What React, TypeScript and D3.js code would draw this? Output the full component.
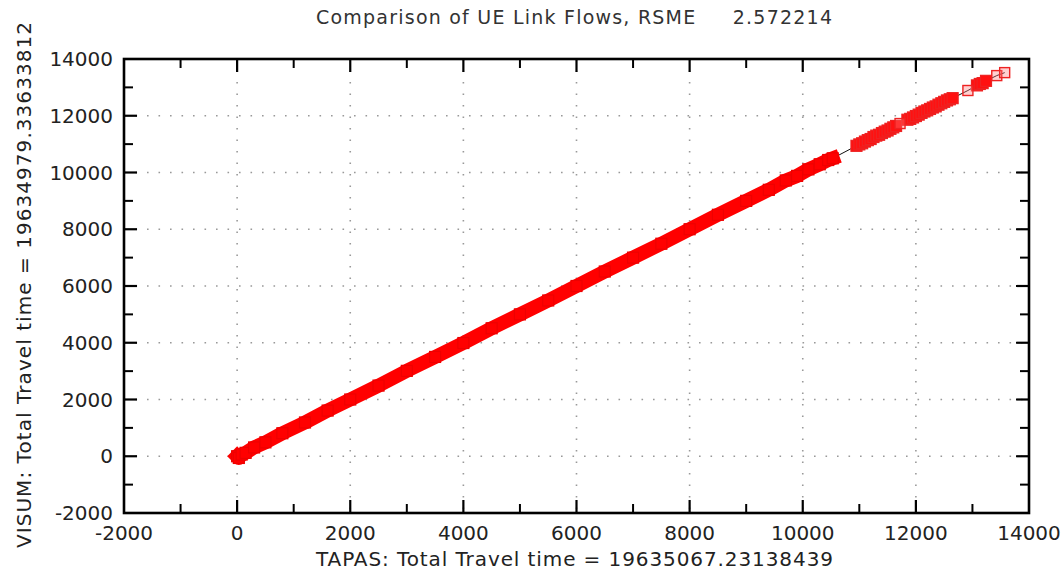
import React from "react";
import * as d3 from "d3";

const W = 1064;
const H = 573;

const titleText = "Comparison of UE Link Flows, RSME     2.572214";
const xAxisTitle = "TAPAS: Total Travel time = 19635067.23138439";
const yAxisTitle = "VISUM: Total Travel time = 19634979.33633812";

const xTicks = [-2000, 0, 2000, 4000, 6000, 8000, 10000, 12000, 14000];
const yTicks = [-2000, 0, 2000, 4000, 6000, 8000, 10000, 12000, 14000];
const minorTicks = [-1000, 1000, 3000, 5000, 7000, 9000, 11000, 13000];

// Dense band of link flows (overlapping markers), TAPAS vs VISUM
const bandTapas = [0, 30, 80, 150, 300, 500, 800, 1200, 1600, 2000, 2500, 3000, 3500, 4000, 4500, 5000, 5500, 6000, 6500, 7000, 7500, 8000, 8500, 9000, 9400, 9700, 9900, 10100, 10300, 10450, 10530];
const bandVisum = [0, -60, 60, 120, 310, 490, 810, 1190, 1610, 2000, 2490, 3010, 3500, 3990, 4510, 5000, 5490, 6000, 6510, 7000, 7490, 8000, 8510, 9000, 9390, 9720, 9880, 10110, 10290, 10440, 10500];

// Clustered links at high flows
const clusterTapas = [10950, 11000, 11050, 11100, 11150, 11200, 11250, 11300, 11350, 11400, 11450, 11500, 11550, 11600, 11650, 11850, 11900, 11950, 12000, 12050, 12100, 12150, 12200, 12250, 12300, 12350, 12400, 12450, 12500, 12550, 12600, 12650, 13080, 13130, 13180, 13240];
const clusterVisum = [10940, 10990, 11030, 11090, 11140, 11180, 11250, 11300, 11330, 11390, 11440, 11480, 11540, 11590, 11640, 11860, 11890, 11940, 11990, 12040, 12100, 12150, 12190, 12240, 12290, 12330, 12390, 12440, 12490, 12540, 12580, 12620, 13070, 13120, 13150, 13230];

// Isolated links
const singleTapas = [11720, 12920, 13430, 13570];
const singleVisum = [11725, 12890, 13415, 13520];

export default function App() {
  const x = d3.scaleLinear().domain([-2000, 14000]).range([124, 1029]);
  const y = d3.scaleLinear().domain([-2000, 14000]).range([513, 59]);
  const [x0, x1] = x.range();
  const [y0, y1] = [y(14000), y(-2000)];

  const allPts = [
    ...bandTapas.map((t, i) => [t, bandVisum[i]]),
    ...clusterTapas.map((t, i) => [t, clusterVisum[i]]),
    ...singleTapas.map((t, i) => [t, singleVisum[i]]),
  ].sort((a, b) => a[0] - b[0]);

  const line = d3.line<number[]>().x((d) => x(d[0])).y((d) => y(d[1]));
  const bandPts = bandTapas.map((t, i) => [t, bandVisum[i]]);
  const ms = 11;
  const font = "'DejaVu Sans', Verdana, sans-serif";

  return (
    <svg width={W} height={H} style={{ position: "absolute", left: 0, top: 0, background: "#fff" }}>
      <rect x={0} y={0} width={W} height={H} fill="#fff" />
      {/* grid */}
      {xTicks.filter((t) => t > -2000 && t < 14000).map((t) => (
        <line key={"gx" + t} x1={x(t)} x2={x(t)} y1={y0} y2={y1} stroke="#999" strokeWidth={1.6} strokeDasharray="1.6,9.9" />
      ))}
      {yTicks.filter((t) => t > -2000 && t < 14000).map((t) => (
        <line key={"gy" + t} x1={x0} x2={x1} y1={y(t)} y2={y(t)} stroke="#999" strokeWidth={1.6} strokeDasharray="1.6,9.9" />
      ))}
      {/* reference line through links */}
      <path d={line(allPts) || ""} fill="none" stroke="#111" strokeWidth={1} />
      {/* dense band */}
      <path d={line(bandPts) || ""} fill="none" stroke="#f00" strokeWidth={14} strokeLinecap="square" strokeLinejoin="round" />
      {bandPts.map((d, i) => (
        <rect key={"b" + i} x={x(d[0]) - ms / 2} y={y(d[1]) - ms / 2} width={ms} height={ms} fill="#f00" stroke="#e00" strokeWidth={1.2} />
      ))}
      {clusterTapas.map((t, i) => (
        <rect key={"c" + i} x={x(t) - ms / 2} y={y(clusterVisum[i]) - ms / 2} width={ms} height={ms} fill="#f11" stroke="#e22" strokeWidth={1.2} />
      ))}
      {singleTapas.map((t, i) => (
        <rect key={"s" + i} x={x(t) - 5} y={y(singleVisum[i]) - 5} width={10} height={10} fill="rgba(255,120,120,0.35)" stroke="#e22" strokeWidth={1.4} />
      ))}
      {/* ticks */}
      {xTicks.filter((t) => t > -2000 && t < 14000).map((t) => (
        <g key={"tx" + t} stroke="#000" strokeWidth={2.2}>
          <line x1={x(t)} x2={x(t)} y1={y1} y2={y1 - 13} />
          <line x1={x(t)} x2={x(t)} y1={y0} y2={y0 + 13} />
        </g>
      ))}
      {minorTicks.map((t) => (
        <g key={"mx" + t} stroke="#000" strokeWidth={2}>
          <line x1={x(t)} x2={x(t)} y1={y1} y2={y1 - 9} />
          <line x1={x(t)} x2={x(t)} y1={y0} y2={y0 + 9} />
          <line x1={x0} x2={x0 + 9} y1={y(t)} y2={y(t)} />
          <line x1={x1} x2={x1 - 9} y1={y(t)} y2={y(t)} />
        </g>
      ))}
      {yTicks.filter((t) => t > -2000 && t < 14000).map((t) => (
        <g key={"ty" + t} stroke="#000" strokeWidth={2.2}>
          <line x1={x0} x2={x0 + 13} y1={y(t)} y2={y(t)} />
          <line x1={x1} x2={x1 - 13} y1={y(t)} y2={y(t)} />
        </g>
      ))}
      {/* frame */}
      <rect x={x0} y={y0} width={x1 - x0} height={y1 - y0} fill="none" stroke="#000" strokeWidth={2.6} />
      {/* tick labels */}
      {xTicks.map((t) => (
        <text key={"lx" + t} x={x(t)} y={540} textAnchor="middle" fontFamily={font} fontSize={20} fill="#222">
          {t}
        </text>
      ))}
      {yTicks.map((t) => (
        <text key={"ly" + t} x={113} y={y(t) + 7} textAnchor="end" fontFamily={font} fontSize={20} fill="#222">
          {t}
        </text>
      ))}
      {/* titles */}
      <text x={316} y={24} fontFamily={font} fontSize={19} fill="#333" style={{ whiteSpace: "pre" }} xmlSpace="preserve" textLength={516} lengthAdjust="spacing">
        {titleText}
      </text>
      <text x={316} y={566} fontFamily={font} fontSize={20} fill="#222" textLength={517} lengthAdjust="spacing">
        {xAxisTitle}
      </text>
      <text transform={`translate(31,548) rotate(-90)`} fontFamily={font} fontSize={20} fill="#222" textLength={526} lengthAdjust="spacing">
        {yAxisTitle}
      </text>
    </svg>
  );
}
